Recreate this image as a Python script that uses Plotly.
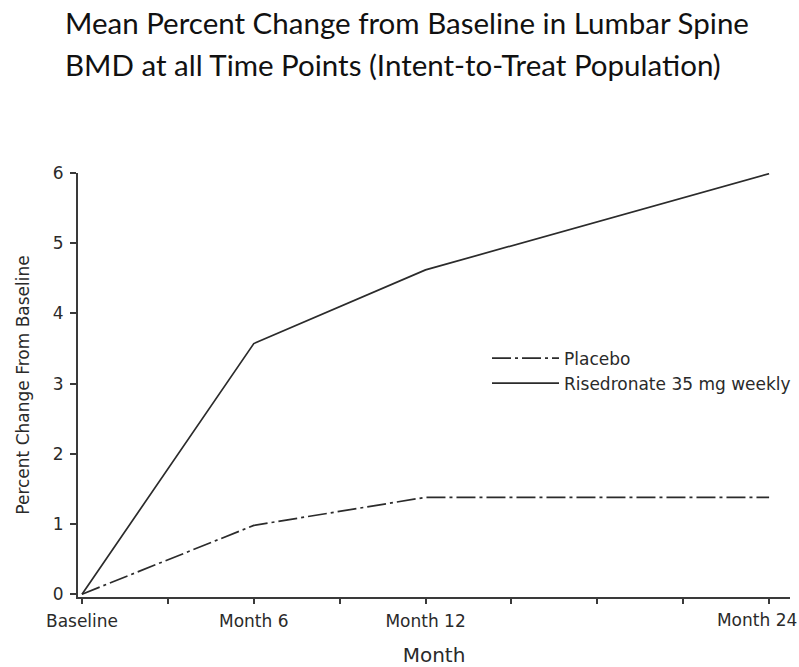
import plotly.graph_objects as go

months = [0, 6, 12, 24]
placebo = [0.0, 0.98, 1.38, 1.38]
risedronate = [0.0, 3.57, 4.62, 5.99]
x_tickvals = [0, 3, 6, 9, 12, 15, 18, 21, 24]
x_ticktext = ["Baseline", "", "Month 6", "", "Month 12", "", "", "", ""]
last_tickval = [24]
last_ticktext = ["Month 24"]
y_tickvals = [0, 1, 2, 3, 4, 5, 6]
title_lines = ["Mean Percent Change from Baseline in Lumbar Spine",
               "BMD at all Time Points (Intent-to-Treat Population)"]

FONT = "DejaVu Sans, Verdana, sans-serif"
axis_font = dict(family=FONT, size=17, color="#2a2a2a")
W, H = 799, 667
PLOT_LEFT, PLOT_RIGHT = 78, 790
PLOT_TOP, PLOT_BOTTOM = 173, 597
PW = PLOT_RIGHT - PLOT_LEFT
PH = PLOT_BOTTOM - PLOT_TOP
XRANGE = [-0.14, 24.73]

def px(pix):
    return (pix - PLOT_LEFT) / PW

def py(pix):
    return (PLOT_BOTTOM - pix) / PH

fig = go.Figure()
fig.add_trace(go.Scatter(x=months, y=placebo, mode="lines", name="Placebo",
                         line=dict(color="#2b2b2b", width=1.7, dash="19px,4px,3px,4px")))
fig.add_trace(go.Scatter(x=months, y=risedronate, mode="lines", name="Risedronate 35 mg weekly",
                         line=dict(color="#2b2b2b", width=1.7)))
# invisible anchor so the secondary axis carrying the last tick label is drawn
fig.add_trace(go.Scatter(x=last_tickval, y=[risedronate[-1]], xaxis="x2", mode="markers",
                         marker=dict(opacity=0), showlegend=False, hoverinfo="skip"))

for line, ypix in zip(title_lines, [23, 64]):
    fig.add_annotation(text=line, xref="paper", yref="paper",
                       x=px(64), y=py(ypix), xanchor="left", yanchor="middle",
                       showarrow=False, borderpad=0,
                       font=dict(family="Lato, sans-serif", size=29.5, color="#111"))

fig.update_layout(
    width=W, height=H,
    paper_bgcolor="white", plot_bgcolor="white",
    margin=dict(l=PLOT_LEFT, r=W - PLOT_RIGHT, t=PLOT_TOP, b=H - PLOT_BOTTOM, autoexpand=False),
    xaxis=dict(range=XRANGE, tickvals=x_tickvals, ticktext=x_ticktext,
               showline=True, linecolor="#3a3a3a", linewidth=2, ticks="outside",
               ticklen=5, tickcolor="#3a3a3a", tickwidth=1.5, showgrid=False, zeroline=False,
               tickfont=axis_font, automargin=False, ticklabelstandoff=3,
               title=dict(text="Month", font=dict(family=FONT, size=20, color="#2a2a2a"),
                          standoff=18)),
    xaxis2=dict(range=XRANGE, overlaying="x", anchor="y", side="bottom",
                tickvals=last_tickval, ticktext=last_ticktext, ticks="outside", ticklen=5,
                tickcolor="rgba(0,0,0,0)", showline=False,
                showgrid=False, zeroline=False, tickfont=axis_font, automargin=False,
                ticklabelshift=-12, ticklabelstandoff=3),
    yaxis=dict(range=[-0.04, 6], tickvals=y_tickvals,
               showline=True, linecolor="#3a3a3a", linewidth=2, ticks="outside",
               ticklen=6, tickcolor="#3a3a3a", tickwidth=1.5, showgrid=False, zeroline=False,
               tickfont=axis_font, automargin=False, ticklabelstandoff=3,
               title=dict(text="Percent Change From Baseline", font=dict(family=FONT, size=17, color="#2a2a2a"),
                          standoff=19)),
    legend=dict(x=px(487), y=py(371), xanchor="left", yanchor="middle",
                font=dict(family=FONT, size=17, color="#2a2a2a"),
                bgcolor="rgba(0,0,0,0)", tracegroupgap=0, itemwidth=67),
    showlegend=True,
)

# remove the browser's default 8px body margin so the figure fills the window exactly
fig.write_html("out.html", config={"displayModeBar": False},
               post_script="document.body.style.margin='0';document.body.style.overflow='hidden';")
